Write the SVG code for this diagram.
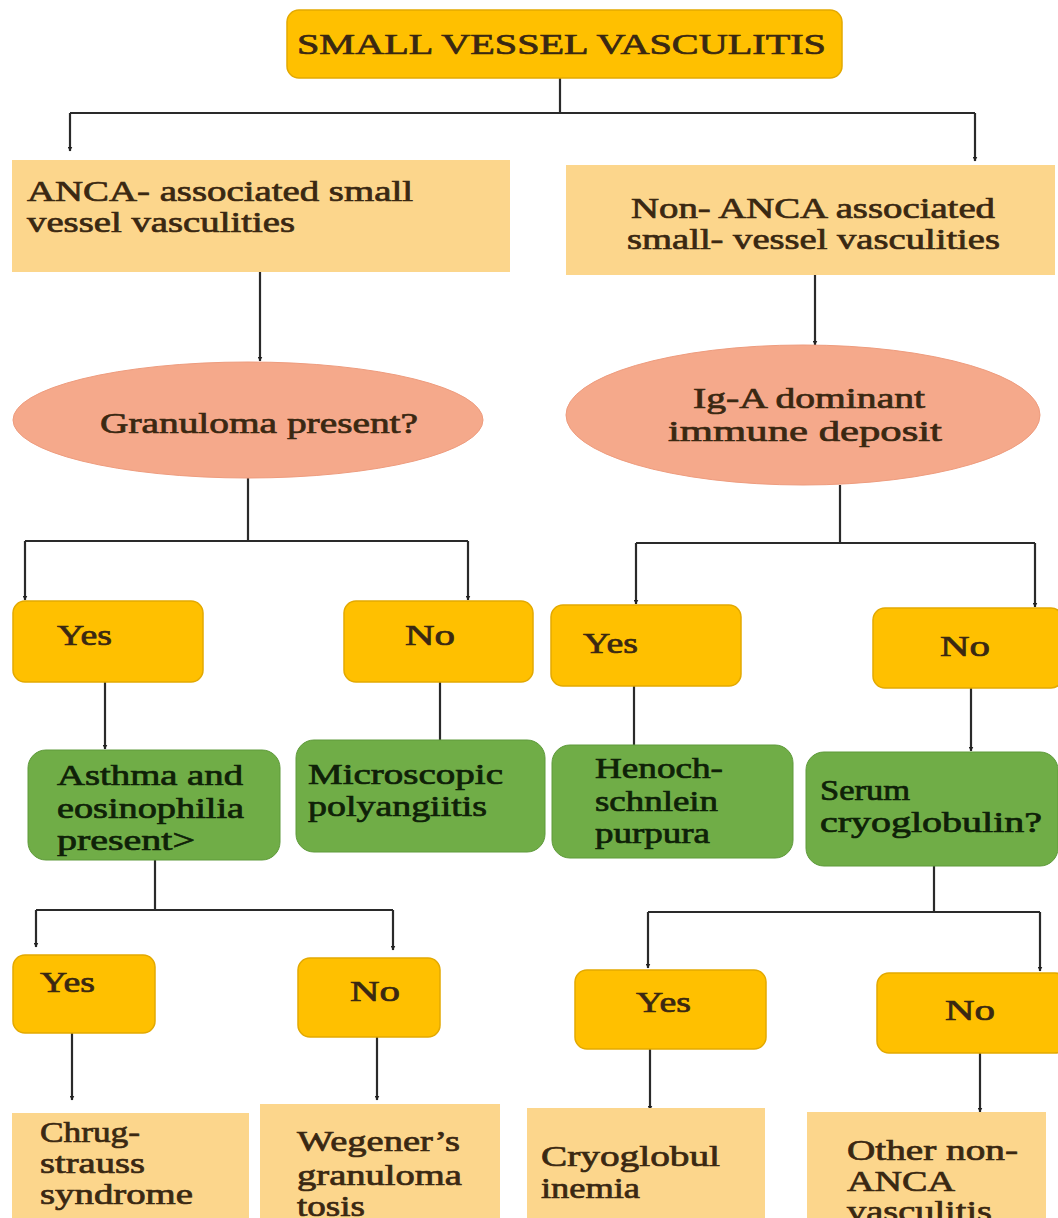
<svg xmlns="http://www.w3.org/2000/svg" width="1058" height="1218" viewBox="0 0 1058 1218">
<defs>
<marker id="ah" viewBox="0 0 10 10" refX="9" refY="5" markerWidth="5" markerHeight="5" orient="auto" markerUnits="userSpaceOnUse"><path d="M0,0 L10,5 L0,10 z" fill="#222"/></marker>
<style>
text{font-family:"Liberation Serif","Times New Roman",serif;font-size:29px;font-weight:normal;fill:#3a2812;stroke:#3a2812;stroke-width:0.7}
.or{fill:#FFC000;stroke:#E3A900;stroke-width:1.5}
.lo{fill:#FCD68C;stroke:none}
.sa{fill:#F5A98B;stroke:#EE9C7E;stroke-width:1}
.gr{fill:#70AD47;stroke:#5E9A3A;stroke-width:1}
text.gt{fill:#0f2108;stroke:#0f2108}
#connectors path{fill:none;stroke:#2a2a2a;stroke-width:2.2}
</style>
</defs>
<rect width="1058" height="1218" fill="#ffffff"/>
<g id="connectors">
<path d="M560,78 V113 M70,113 H975"/>
<path d="M70,113 V151" marker-end="url(#ah)"/>
<path d="M975,113 V161" marker-end="url(#ah)"/>
<path d="M260,272 V361" marker-end="url(#ah)"/>
<path d="M815,275 V345" marker-end="url(#ah)"/>
<path d="M248,478 V541 M25,541 H468"/>
<path d="M25,541 V600" marker-end="url(#ah)"/>
<path d="M468,541 V600" marker-end="url(#ah)"/>
<path d="M840,485 V543 M636,543 H1035"/>
<path d="M636,543 V604" marker-end="url(#ah)"/>
<path d="M1035,543 V607" marker-end="url(#ah)"/>
<path d="M105,682 V749" marker-end="url(#ah)"/>
<path d="M440,682 V740"/>
<path d="M634,686 V745"/>
<path d="M971,688 V751" marker-end="url(#ah)"/>
<path d="M155,860 V910 M36,910 H393"/>
<path d="M36,910 V947" marker-end="url(#ah)"/>
<path d="M393,910 V950" marker-end="url(#ah)"/>
<path d="M934,866 V912 M648,912 H1040"/>
<path d="M648,912 V968" marker-end="url(#ah)"/>
<path d="M1040,912 V971" marker-end="url(#ah)"/>
<path d="M72,1033 V1100" marker-end="url(#ah)"/>
<path d="M377,1037 V1100" marker-end="url(#ah)"/>
<path d="M650,1049 V1110" marker-end="url(#ah)"/>
<path d="M980,1053 V1112" marker-end="url(#ah)"/>
</g>
<g id="n-root"><rect class="or" x="287" y="10" width="555" height="68" rx="12"/><text x="297" y="54" textLength="529" lengthAdjust="spacingAndGlyphs">SMALL VESSEL VASCULITIS</text></g>
<g id="n-anca"><rect class="lo" x="12" y="160" width="498" height="112"/><text x="27" y="201" textLength="386" lengthAdjust="spacingAndGlyphs">ANCA- associated small</text><text x="27" y="232" textLength="268" lengthAdjust="spacingAndGlyphs">vessel vasculities</text></g>
<g id="n-nonanca"><rect class="lo" x="566" y="165" width="489" height="110"/><text x="631" y="218" textLength="364" lengthAdjust="spacingAndGlyphs">Non- ANCA associated</text><text x="627" y="249" textLength="373" lengthAdjust="spacingAndGlyphs">small- vessel vasculities</text></g>
<g id="n-granuloma"><ellipse class="sa" cx="248" cy="420" rx="235" ry="58"/><text x="100" y="433" textLength="318" lengthAdjust="spacingAndGlyphs">Granuloma present?</text></g>
<g id="n-iga"><ellipse class="sa" cx="803" cy="415" rx="237" ry="70"/><text x="693" y="408" textLength="232" lengthAdjust="spacingAndGlyphs">Ig-A dominant</text><text x="668" y="441" textLength="274" lengthAdjust="spacingAndGlyphs">immune deposit</text></g>
<g id="n-yes1"><rect class="or" x="13" y="601" width="190" height="81" rx="12"/><text x="57" y="645" textLength="55" lengthAdjust="spacingAndGlyphs">Yes</text></g>
<g id="n-no1"><rect class="or" x="344" y="601" width="189" height="81" rx="12"/><text x="405" y="645" textLength="50" lengthAdjust="spacingAndGlyphs">No</text></g>
<g id="n-yes2"><rect class="or" x="551" y="605" width="190" height="81" rx="12"/><text x="583" y="653" textLength="55" lengthAdjust="spacingAndGlyphs">Yes</text></g>
<g id="n-no2"><rect class="or" x="873" y="608" width="190" height="80" rx="12"/><text x="940" y="656" textLength="50" lengthAdjust="spacingAndGlyphs">No</text></g>
<g id="n-asthma"><rect class="gr" x="28" y="750" width="252" height="110" rx="18"/><text class="gt" x="57" y="785" textLength="186" lengthAdjust="spacingAndGlyphs">Asthma and</text><text class="gt" x="57" y="818" textLength="187" lengthAdjust="spacingAndGlyphs">eosinophilia</text><text class="gt" x="57" y="850" textLength="138" lengthAdjust="spacingAndGlyphs">present&gt;</text></g>
<g id="n-micro"><rect class="gr" x="296" y="740" width="249" height="112" rx="18"/><text class="gt" x="308" y="784" textLength="195" lengthAdjust="spacingAndGlyphs">Microscopic</text><text class="gt" x="308" y="816" textLength="179" lengthAdjust="spacingAndGlyphs">polyangiitis</text></g>
<g id="n-henoch"><rect class="gr" x="552" y="745" width="241" height="113" rx="18"/><text class="gt" x="595" y="778" textLength="128" lengthAdjust="spacingAndGlyphs">Henoch-</text><text class="gt" x="595" y="811" textLength="123" lengthAdjust="spacingAndGlyphs">schnlein</text><text class="gt" x="595" y="843" textLength="115" lengthAdjust="spacingAndGlyphs">purpura</text></g>
<g id="n-serum"><rect class="gr" x="806" y="752" width="252" height="114" rx="18"/><text class="gt" x="820" y="800" textLength="90" lengthAdjust="spacingAndGlyphs">Serum</text><text class="gt" x="820" y="832" textLength="222" lengthAdjust="spacingAndGlyphs">cryoglobulin?</text></g>
<g id="n-yes3"><rect class="or" x="13" y="955" width="142" height="78" rx="12"/><text x="40" y="992" textLength="55" lengthAdjust="spacingAndGlyphs">Yes</text></g>
<g id="n-no3"><rect class="or" x="298" y="958" width="142" height="79" rx="12"/><text x="350" y="1001" textLength="50" lengthAdjust="spacingAndGlyphs">No</text></g>
<g id="n-yes4"><rect class="or" x="575" y="970" width="191" height="79" rx="12"/><text x="636" y="1012" textLength="55" lengthAdjust="spacingAndGlyphs">Yes</text></g>
<g id="n-no4"><rect class="or" x="877" y="973" width="190" height="80" rx="12"/><text x="945" y="1020" textLength="50" lengthAdjust="spacingAndGlyphs">No</text></g>
<g id="n-chrug"><rect class="lo" x="12" y="1113" width="237" height="110"/><text x="40" y="1142" textLength="100" lengthAdjust="spacingAndGlyphs">Chrug-</text><text x="40" y="1173" textLength="105" lengthAdjust="spacingAndGlyphs">strauss</text><text x="40" y="1204" textLength="153" lengthAdjust="spacingAndGlyphs">syndrome</text></g>
<g id="n-wegener"><rect class="lo" x="260" y="1104" width="240" height="120"/><text x="297" y="1151" textLength="163" lengthAdjust="spacingAndGlyphs">Wegener’s</text><text x="297" y="1185" textLength="165" lengthAdjust="spacingAndGlyphs">granuloma</text><text x="297" y="1216" textLength="68" lengthAdjust="spacingAndGlyphs">tosis</text></g>
<g id="n-cryo"><rect class="lo" x="527" y="1108" width="238" height="115"/><text x="541" y="1166" textLength="179" lengthAdjust="spacingAndGlyphs">Cryoglobul</text><text x="541" y="1198" textLength="99" lengthAdjust="spacingAndGlyphs">inemia</text></g>
<g id="n-other"><rect class="lo" x="807" y="1112" width="239" height="111"/><text x="847" y="1160" textLength="171" lengthAdjust="spacingAndGlyphs">Other non-</text><text x="847" y="1191" textLength="108" lengthAdjust="spacingAndGlyphs">ANCA</text><text x="847" y="1221" textLength="145" lengthAdjust="spacingAndGlyphs">vasculitis</text></g>
</svg>
